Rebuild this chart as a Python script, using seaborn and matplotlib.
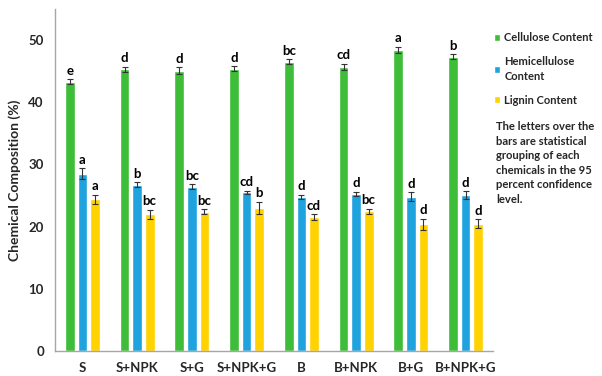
import numpy as np
import pandas as pd
import seaborn as sns
import matplotlib.pyplot as plt

# values
treatments = ['S', 'S+NPK', 'S+G', 'S+NPK+G', 'B', 'B+NPK', 'B+G', 'B+NPK+G']
series = ['Cellulose Content', 'Hemicellulose\nContent', 'Lignin Content']

cellulose = [43.3, 45.3, 45.1, 45.4, 46.5, 45.7, 48.4, 47.3]
hemicellulose = [28.5, 26.7, 26.4, 25.5, 24.8, 25.3, 24.8, 25.1]
lignin = [24.4, 22.0, 22.4, 23.0, 21.5, 22.5, 20.4, 20.5]

cellulose_err = [0.4, 0.4, 0.5, 0.4, 0.4, 0.5, 0.5, 0.4]
hemicellulose_err = [0.9, 0.4, 0.4, 0.3, 0.3, 0.3, 0.7, 0.6]
lignin_err = [0.7, 0.7, 0.4, 1.0, 0.5, 0.4, 0.9, 0.7]

cellulose_grp = ['e', 'd', 'd', 'd', 'bc', 'cd', 'a', 'b']
hemicellulose_grp = ['a', 'b', 'bc', 'cd', 'd', 'd', 'd', 'd']
lignin_grp = ['a', 'bc', 'bc', 'b', 'cd', 'bc', 'd', 'd']

colors = ['#3dbd38', '#1ea3de', '#ffd200']

rows = []
for name, vals, errs, grps in zip(series,
                                  [cellulose, hemicellulose, lignin],
                                  [cellulose_err, hemicellulose_err, lignin_err],
                                  [cellulose_grp, hemicellulose_grp, lignin_grp]):
    for t, v, e, g in zip(treatments, vals, errs, grps):
        rows.append({'Treatment': t, 'Series': name, 'Value': v, 'Err': e, 'Group': g})
df = pd.DataFrame(rows)

sns.set_style('white')
plt.rcParams['font.family'] = ['Lato', 'DejaVu Sans']
plt.rcParams['font.weight'] = 'bold'

fig = plt.figure(figsize=(6.02, 3.76), dpi=100)
ax = fig.add_axes([55 / 602, 25 / 376, 438 / 602, 342 / 376])

sns.barplot(data=df, x='Treatment', y='Value', hue='Series', order=treatments,
            hue_order=series, palette=colors, saturation=1, width=0.69, gap=0.24,
            errorbar=None, ax=ax, legend=True)

# error bars and grouping letters on each bar
for container, name in zip(ax.containers, series):
    sub = df[df['Series'] == name].set_index('Treatment').loc[treatments]
    for rect, (_, r) in zip(container, sub.iterrows()):
        xc = rect.get_x() + rect.get_width() / 2
        ax.errorbar(xc, r['Value'], yerr=r['Err'], fmt='none', ecolor='#333333',
                    elinewidth=0.8, capsize=2, capthick=0.8)
        ax.text(xc, r['Value'] + r['Err'] + 0.4, r['Group'], ha='center', va='bottom',
                fontsize=9.5, fontweight='bold', color='black')

ax.set_ylim(0, 55)
ax.set_xlim(-0.5, 7.5)
ax.set_yticks([0, 10, 20, 30, 40, 50])
ax.set_xlabel('')
ax.set_ylabel('Chemical Composition (%)', fontsize=10, fontweight='bold', labelpad=5)
ax.tick_params(axis='both', length=0, labelsize=9.5, pad=8)
for s in ['top', 'right']:
    ax.spines[s].set_visible(False)
for s in ['left', 'bottom']:
    ax.spines[s].set_color('#a6a6a6')
    ax.spines[s].set_linewidth(1)

leg = ax.legend(loc='upper left', bbox_to_anchor=(490 / 602, 1 - 28 / 376), bbox_transform=fig.transFigure,
                frameon=False, fontsize=8, handlelength=0.5, handleheight=0.5,
                handletextpad=0.4, labelspacing=1.15, borderaxespad=0)
for t in leg.get_texts():
    t.set_fontweight('bold')
    t.set_linespacing(1.4)

fig.text(496 / 602, 1 - 121 / 376,
         'The letters over the\nbars are statistical\ngrouping of each\nchemicals in the 95\npercent confidence\nlevel.',
         ha='left', va='top', fontsize=8.1, fontweight='bold', linespacing=1.4)

fig.savefig('out.png', dpi=100)
